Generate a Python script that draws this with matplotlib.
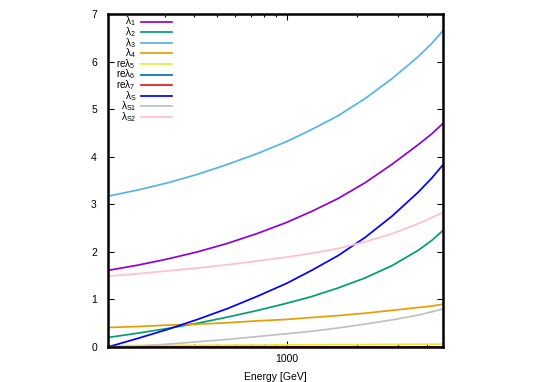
import matplotlib
matplotlib.use("Agg")
import matplotlib.pyplot as plt
from matplotlib.lines import Line2D

plt.rcParams['font.family'] = ['Liberation Sans', 'DejaVu Sans']
plt.rcParams['mathtext.default'] = 'regular'

energy = [170, 228, 307, 413, 557, 750, 1000, 1278, 1660, 2168, 2835, 3670, 4204, 4700]

lam1 = [1.61, 1.72, 1.85, 2.00, 2.18, 2.39, 2.62, 2.85, 3.12, 3.45, 3.84, 4.25, 4.48, 4.70]
lam2 = [0.20, 0.29, 0.39, 0.50, 0.63, 0.77, 0.92, 1.06, 1.24, 1.45, 1.71, 2.03, 2.24, 2.45]
lam3 = [3.17, 3.30, 3.45, 3.63, 3.84, 4.07, 4.32, 4.57, 4.86, 5.22, 5.64, 6.10, 6.38, 6.65]
lam4 = [0.41, 0.43, 0.46, 0.48, 0.51, 0.55, 0.58, 0.62, 0.66, 0.71, 0.77, 0.83, 0.86, 0.90]
relam5 = [0.03, 0.03, 0.035, 0.035, 0.04, 0.04, 0.045, 0.045, 0.05, 0.05, 0.055, 0.058, 0.06, 0.06]
relam6 = [0.0] * 14
relam7 = [0.0] * 14
lamS = [0.00, 0.18, 0.37, 0.58, 0.81, 1.07, 1.34, 1.61, 1.92, 2.30, 2.75, 3.25, 3.55, 3.83]
lamS1 = [0.00, 0.02, 0.06, 0.11, 0.16, 0.22, 0.28, 0.33, 0.40, 0.48, 0.57, 0.67, 0.74, 0.80]
lamS2 = [1.49, 1.54, 1.60, 1.66, 1.73, 1.81, 1.89, 1.97, 2.07, 2.21, 2.38, 2.59, 2.72, 2.83]

labels = ['λ$_1$', 'λ$_2$', 'λ$_3$', 'λ$_4$', 'reλ$_5$', 'reλ$_6$', 'reλ$_7$',
          'λ$_S$', 'λ$_{S1}$', 'λ$_{S2}$']
series = [lam1, lam2, lam3, lam4, relam5, relam6, relam7, lamS, lamS1, lamS2]
colors = ['#9400d3', '#009e73', '#56b4e9', '#e69f00', '#f0e442', '#0072b2',
          '#e51e10', '#0000ff', '#c0c0c0', '#ffc0cb']

x_major = [1000]
x_minor = [300, 400, 500, 600, 700, 800, 900, 2000, 3000, 4000]
y_ticks = [0, 1, 2, 3, 4, 5, 6, 7]

W, H = 545, 382
fig = plt.figure(figsize=(W / 100, H / 100), dpi=100)
ax = fig.add_axes([108 / W, 1 - 347 / H, (443 - 108) / W, (347 - 14) / H])

for ys, c in zip(series, colors):
    ax.plot(energy, ys, color=c, lw=1.25, zorder=2, solid_joinstyle='round')

ax.set_xscale('log')
ax.set_xlim(energy[0], energy[-1])
ax.set_ylim(0, 7)
ax.set_xticks(x_major)
ax.set_xticklabels([str(v) for v in x_major])
ax.set_xticks(x_minor, minor=True)
ax.set_xticklabels([], minor=True)
ax.set_yticks(y_ticks)
ax.set_yticklabels([str(v) for v in y_ticks])

ax.tick_params(axis='both', which='major', direction='in', length=4, width=0.8,
               top=True, right=True, labelsize=7.5, pad=5, colors='black')
ax.tick_params(axis='x', which='minor', direction='in', length=2.5, width=0.8,
               top=True, bottom=True)
ax.tick_params(axis='y', which='minor', left=False, right=False)
ax.tick_params(axis='y', pad=8)

for s in ax.spines.values():
    s.set_linewidth(1.8)
    s.set_zorder(3)

ax.set_xlabel('Energy [GeV]', fontsize=7.5, labelpad=6)

# key (top-left, gnuplot style)
for i, (lab, c) in enumerate(zip(labels, colors)):
    ypix = 21.5 + i * 10.6
    fig.text(136 / W, 1 - ypix / H, lab, ha='right', va='center', fontsize=7.2)
    fig.add_artist(Line2D([141 / W, 172 / W], [1 - ypix / H, 1 - ypix / H],
                          color=c, lw=1.25, transform=fig.transFigure))

fig.savefig('out.png', dpi=100)
